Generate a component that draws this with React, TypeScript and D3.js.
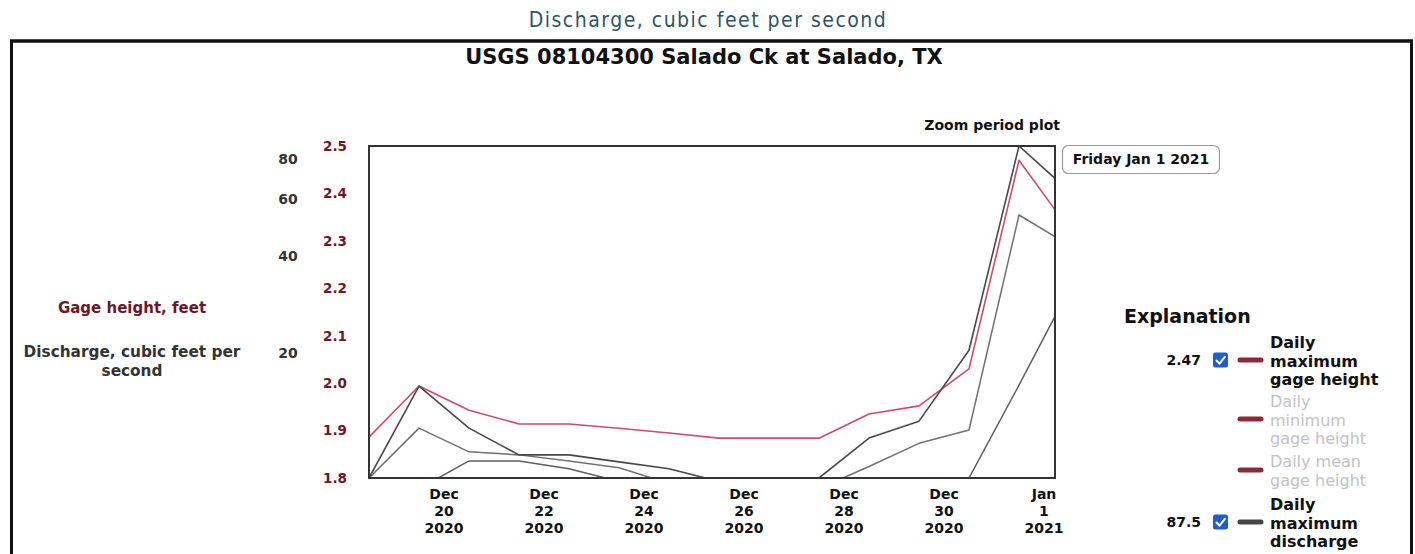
import React from "react";
import * as d3 from "d3";

// ---- data ----
const dates = [
  "2020-12-19", "2020-12-20", "2020-12-21", "2020-12-22", "2020-12-23",
  "2020-12-24", "2020-12-25", "2020-12-26", "2020-12-27", "2020-12-28",
  "2020-12-29", "2020-12-30", "2020-12-31", "2021-01-01", "2021-01-02",
];
const gageMax = [1.886, 1.994, 1.943, 1.914, 1.914, 1.905, 1.895, 1.884, 1.884, 1.884, 1.935, 1.952, 2.03, 2.47, 2.325];
const dischargeA = [8.2, 15.8, 11.7, 9.67, 9.67, 9.2, 8.76, 8.0, 8.2, 8.2, 10.9, 12.3, 20.4, 87.5, 63.5];
const dischargeB = [8.2, 11.7, 9.88, 9.67, 9.26, 8.82, 7.9, 7.6, 7.6, 7.6, 8.9, 10.5, 11.55, 53.5, 43.2];
const dischargeC = [7.6, 7.6, 9.26, 9.26, 8.76, 8.0, 7.6, 7.6, 7.6, 7.6, 7.6, 7.6, 8.2, 15.9, 31.4];
const gageTicks = [1.8, 1.9, 2.0, 2.1, 2.2, 2.3, 2.4, 2.5];
const dischargeTicks = [20, 40, 60, 80];
const xTickDates = ["2020-12-20", "2020-12-22", "2020-12-24", "2020-12-26", "2020-12-28", "2020-12-30", "2021-01-01"];
const gageDomain = [1.8, 2.5];
const dischargeDomain = [8.2, 87.5];
const xDomainStart = "2020-12-19 00:00";
const xDomainEnd = "2021-01-01 17:17";

const pageTitle = "Discharge, cubic feet per second";
const chartTitle = "USGS 08104300 Salado Ck at Salado, TX";
const hoverDate = "Friday Jan 1 2021";
const legendItems = [
  { lines: ["Daily", "maximum", "gage height"], value: "2.47", on: true, swatch: "#8b2a38" },
  { lines: ["Daily", "minimum", "gage height"], value: "", on: false, swatch: "#8b2a38" },
  { lines: ["Daily mean", "gage height"], value: "", on: false, swatch: "#8b2a38" },
  { lines: ["Daily", "maximum", "discharge"], value: "87.5", on: true, swatch: "#444444" },
];

const parseDay = d3.timeParse("%Y-%m-%d");
const parseDT = d3.timeParse("%Y-%m-%d %H:%M");

const FONT = "'DejaVu Sans', Verdana, sans-serif";

export default function App() {
  const W = 1415, H = 554;
  const L = 369, R = 1055, T = 146, B = 478;

  const x = d3.scaleTime().domain([parseDT(xDomainStart)!, parseDT(xDomainEnd)!]).range([L, R]);
  const yG = d3.scaleLinear().domain(gageDomain).range([B, T]);
  const yQ = d3.scaleLog().domain(dischargeDomain).range([B, T]);

  const days = dates.map((d) => parseDay(d)!);
  const lineG = d3.line<number>().x((_, i) => x(days[i])).y((v) => yG(v));
  const lineQ = d3.line<number>().x((_, i) => x(days[i])).y((v) => yQ(v));

  const fmtMon = d3.timeFormat("%b");
  const fmtDay = d3.timeFormat("%-d");
  const fmtYear = d3.timeFormat("%Y");

  const swatchY = [360, 419, 470, 522];
  const rowBaselines = [
    [348, 366.5, 385],
    [407, 425.5, 444],
    [467, 485.5],
    [510, 528.5, 547],
  ];

  return (
    <div style={{ position: "fixed", left: 0, top: 0, width: W, height: H, background: "#fff" }}>
      <svg width={W} height={H} style={{ display: "block" }}>
        <defs>
          <clipPath id="plotclip">
            <rect x={L} y={T} width={R - L} height={B - T} />
          </clipPath>
        </defs>
        <rect x={0} y={0} width={W} height={H} fill="#fff" />

        {/* page title */}
        <text x={708} y={27} textAnchor="middle" fontFamily="'DejaVu Sans Condensed', 'Liberation Sans Narrow', sans-serif" fontStretch="condensed" fontSize={21} letterSpacing={1.5} fill="#2f5566">
          {pageTitle}
        </text>

        {/* outer frame */}
        <line x1={10} x2={1413} y1={41} y2={41} stroke="#111" strokeWidth={3.5} />
        <line x1={11.5} x2={11.5} y1={40} y2={H} stroke="#111" strokeWidth={3} />
        <line x1={1411.5} x2={1411.5} y1={40} y2={H} stroke="#111" strokeWidth={3} />

        {/* chart title */}
        <text x={704} y={64} textAnchor="middle" fontFamily={FONT} fontWeight="bold" fontSize={21} fill="#111">
          {chartTitle}
        </text>

        {/* axis titles */}
        <text x={132} y={313} textAnchor="middle" fontFamily={FONT} fontWeight="bold" fontSize={15} fill="#6e1628">
          Gage height, feet
        </text>
        <text textAnchor="middle" fontFamily={FONT} fontWeight="bold" fontSize={15.3} fill="#333">
          <tspan x={132} y={357}>Discharge, cubic feet per</tspan>
          <tspan x={132} y={376}>second</tspan>
        </text>

        {/* discharge ticks */}
        {dischargeTicks.map((t) => (
          <text key={"q" + t} x={288} y={yQ(t)} dy="0.36em" textAnchor="middle" fontFamily={FONT} fontWeight="bold" fontSize={14} fill="#333">
            {t}
          </text>
        ))}
        {/* gage ticks */}
        {gageTicks.map((t) => (
          <text key={"g" + t} x={335} y={yG(t)} dy="0.36em" textAnchor="middle" fontFamily={FONT} fontWeight="bold" fontSize={13.5} fill="#6e1628">
            {t.toFixed(1)}
          </text>
        ))}

        {/* lines */}
        <g clipPath="url(#plotclip)" fill="none" strokeLinejoin="round">
          <path d={lineQ(dischargeC)!} stroke="#5e5e5e" strokeWidth={1.5} />
          <path d={lineQ(dischargeB)!} stroke="#707070" strokeWidth={1.5} />
          <path d={lineG(gageMax)!} stroke="#d04a6c" strokeWidth={1.6} />
          <path d={lineQ(dischargeA)!} stroke="#484848" strokeWidth={1.6} />
        </g>

        {/* plot frame */}
        <rect x={L} y={T} width={R - L} height={B - T} fill="none" stroke="#333" strokeWidth={2} />

        {/* x tick labels */}
        {xTickDates.map((s) => {
          const d = parseDay(s)!;
          const cx = x(d3.timeHour.offset(d, 12));
          return (
            <text key={s} textAnchor="middle" fontFamily={FONT} fontWeight="bold" fontSize={14} fill="#111">
              <tspan x={cx} y={499}>{fmtMon(d)}</tspan>
              <tspan x={cx} y={516}>{fmtDay(d)}</tspan>
              <tspan x={cx} y={533}>{fmtYear(d)}</tspan>
            </text>
          );
        })}

        {/* zoom label + hover box */}
        <text x={1060} y={130} textAnchor="end" fontFamily={FONT} fontWeight="bold" fontSize={14} fill="#111">
          Zoom period plot
        </text>
        <rect x={1062.5} y={145.5} width={157} height={28} rx={6} fill="#fff" stroke="#9a9a9a" strokeWidth={1.2} />
        <text x={1141} y={164} textAnchor="middle" fontFamily={FONT} fontWeight="bold" fontSize={14} fill="#111">
          {hoverDate}
        </text>

        {/* legend */}
        <text x={1124} y={323} fontFamily={FONT} fontWeight="bold" fontSize={19} fill="#111">
          Explanation
        </text>
        {legendItems.map((it, i) => {
          const lineY = swatchY[i];
          return (
            <g key={i}>
              {it.on && (
                <>
                  <text x={1201} y={lineY + 5} textAnchor="end" fontFamily={FONT} fontWeight="bold" fontSize={14} fill="#111">
                    {it.value}
                  </text>
                  <rect x={1213} y={lineY - 7.5} width={15} height={15} rx={2.5} fill="#1f5ccc" />
                  <path d={`M${1216.5},${lineY + 0.5} l3,3.2 l5.5,-7`} fill="none" stroke="#fff" strokeWidth={2} strokeLinecap="round" strokeLinejoin="round" />
                </>
              )}
              <line x1={1240} x2={1261} y1={lineY} y2={lineY} stroke={it.swatch} strokeWidth={5} strokeLinecap="round" />
              <text fontFamily={FONT} fontWeight={it.on ? "bold" : "normal"} fontSize={16} fill={it.on ? "#111" : "#c2c2c2"}>
                {it.lines.map((ln, k) => (
                  <tspan key={k} x={1270} y={rowBaselines[i][k]}>{ln}</tspan>
                ))}
              </text>
            </g>
          );
        })}
      </svg>
    </div>
  );
}
